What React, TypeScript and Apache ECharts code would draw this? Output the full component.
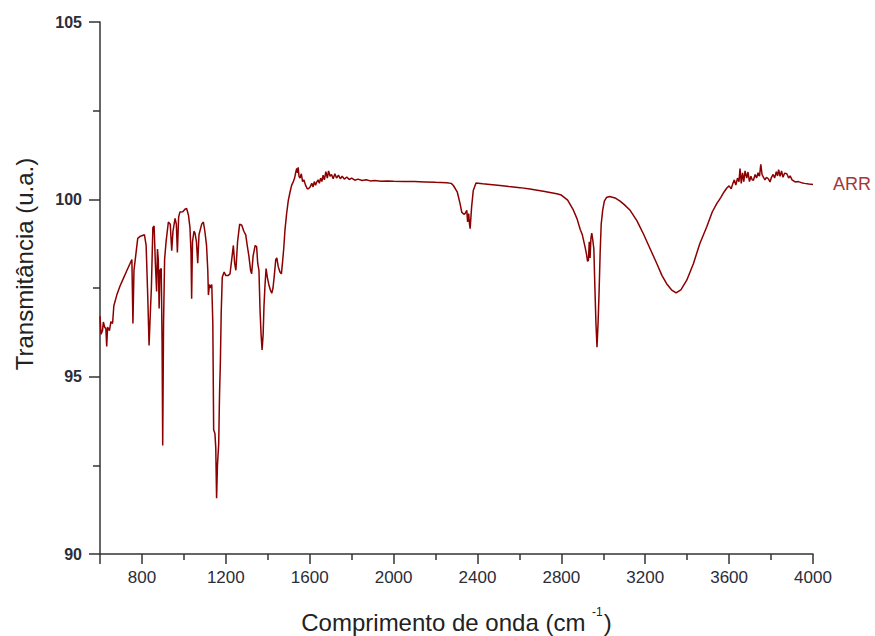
import React, { useEffect, useRef } from "react";
import * as echarts from "echarts";

// Wavenumber (cm^-1) and transmittance (u.a.)
const wavenumbers: number[] = [
  600, 605, 612, 616, 622, 628, 632, 636, 645, 652, 660, 666, 680, 695, 710, 725, 740, 752, 757, 762,
  770, 780, 790, 812, 820, 828, 834, 840, 845, 852, 858, 864, 870, 874, 878, 882, 886, 892, 896, 899,
  903, 908, 915, 926, 935, 942, 948, 958, 964, 969, 975, 981, 995, 1005, 1013, 1022, 1029, 1034, 1037, 1041,
  1048, 1053, 1060, 1066, 1072, 1085, 1093, 1100, 1108, 1114, 1117, 1122, 1128, 1133, 1138, 1142, 1148, 1152, 1156, 1160,
  1166, 1170, 1174, 1178, 1183, 1192, 1200, 1210, 1220, 1228, 1236, 1242, 1248, 1256, 1266, 1276, 1286, 1295, 1302, 1310,
  1318, 1323, 1330, 1340, 1347, 1352, 1358, 1363, 1368, 1373, 1378, 1382, 1387, 1392, 1398, 1405, 1412, 1419, 1425, 1432,
  1438, 1443, 1450, 1458, 1465, 1470, 1476, 1482, 1490, 1498, 1506, 1514, 1522, 1528, 1533, 1538, 1542, 1545, 1549, 1554,
  1560, 1566, 1572, 1580, 1588, 1594, 1602, 1610, 1616, 1622, 1628, 1633, 1640, 1646, 1652, 1658, 1664, 1670, 1677, 1684,
  1690, 1697, 1704, 1712, 1720, 1728, 1737, 1746, 1755, 1765, 1777, 1788, 1800, 1815, 1830, 1850, 1870, 1888, 1910, 1940,
  1970, 2000, 2050, 2100, 2150, 2200, 2253, 2275, 2285, 2304, 2317, 2325, 2335, 2341, 2349, 2353, 2358, 2362, 2365, 2372,
  2380, 2393, 2425, 2460, 2508, 2550, 2603, 2650, 2714, 2778, 2800, 2830, 2857, 2875, 2890, 2900, 2913, 2920, 2925, 2929,
  2933, 2937, 2941, 2945, 2950, 2955, 2960, 2965, 2970, 2975, 2980, 2985, 2990, 2997, 3005, 3015, 3030, 3056, 3080, 3100,
  3128, 3160, 3191, 3220, 3255, 3280, 3302, 3325, 3347, 3370, 3398, 3430, 3460, 3493, 3520, 3541, 3560, 3575, 3589, 3600,
  3610, 3618, 3625, 3632, 3640, 3647, 3652, 3658, 3664, 3670, 3676, 3684, 3690, 3697, 3704, 3710, 3716, 3724, 3731, 3738,
  3745, 3751, 3757, 3764, 3771, 3778, 3787, 3795, 3802, 3810, 3817, 3825, 3831, 3836, 3843, 3850, 3857, 3865, 3875, 3884,
  3891, 3900, 3915, 3930, 3945, 3960, 3980, 4000,
];

const transmittance: number[] = [
  96.7, 96.2, 96.3, 96.54, 96.4, 96.35, 95.85, 96.4, 96.3, 96.55, 96.5, 97.0, 97.3, 97.55, 97.75, 97.95, 98.15, 98.3, 96.5, 98.0,
  98.4, 98.9, 98.95, 99.0, 98.7, 97.2, 95.88, 96.8, 97.5, 99.2, 99.25, 98.2, 97.4, 98.6, 98.3, 96.92, 98.0, 98.05, 96.0, 93.06,
  96.5, 98.3, 98.8, 99.36, 99.3, 98.55, 99.1, 99.46, 99.3, 98.5, 99.5, 99.64, 99.65, 99.72, 99.74, 99.55, 99.2, 98.5, 97.2, 98.8,
  99.1, 99.05, 98.8, 98.2, 99.0, 99.3, 99.36, 99.1, 98.7, 98.0, 97.3, 97.6, 97.5, 97.6, 96.5, 93.5, 93.4, 93.0, 91.57, 92.5,
  93.1, 94.5, 95.4, 96.8, 97.8, 97.95, 97.85, 97.85, 97.9, 98.3, 98.7, 98.2, 98.0, 98.8, 99.3, 99.27, 99.1, 99.0, 98.7, 98.4,
  98.0, 97.9, 98.4, 98.7, 98.66, 98.2, 98.0, 96.9, 96.2, 95.75, 96.2, 97.0, 97.6, 98.05, 97.8, 97.6, 97.45, 97.35, 97.5, 97.9,
  98.3, 98.35, 98.1, 97.95, 97.9, 98.2, 98.6, 99.13, 99.6, 99.97, 100.2, 100.4, 100.5, 100.6, 100.75, 100.87, 100.75, 100.9, 100.65, 100.6,
  100.72, 100.5, 100.55, 100.4, 100.3, 100.3, 100.35, 100.45, 100.35, 100.5, 100.4, 100.48, 100.55, 100.45, 100.6, 100.5, 100.68, 100.55, 100.78, 100.6,
  100.8, 100.65, 100.7, 100.58, 100.72, 100.6, 100.68, 100.58, 100.65, 100.57, 100.63, 100.56, 100.6, 100.54, 100.57, 100.53, 100.55, 100.52, 100.53, 100.51,
  100.52, 100.51, 100.5, 100.5, 100.49, 100.48, 100.47, 100.45, 100.39, 100.2, 99.88, 99.64, 99.58, 99.6, 99.69, 99.36, 99.6, 99.3, 99.17, 99.78,
  100.25, 100.46, 100.44, 100.42, 100.39, 100.36, 100.33, 100.29, 100.23, 100.16, 100.12, 99.98, 99.7, 99.45, 99.15, 99.0, 98.66, 98.45, 98.25, 98.28,
  98.8, 98.35, 98.9, 99.05, 98.85, 98.6, 97.5, 96.5, 95.83, 96.5, 97.4, 98.5, 99.3, 99.69, 99.95, 100.05, 100.08, 100.04, 99.95, 99.85,
  99.69, 99.4, 99.03, 98.65, 98.19, 97.85, 97.62, 97.45, 97.36, 97.45, 97.72, 98.19, 98.75, 99.22, 99.65, 99.88, 100.05, 100.2, 100.32, 100.38,
  100.3, 100.45, 100.55, 100.4, 100.6, 100.5, 100.87, 100.45, 100.75, 100.5, 100.8, 100.6, 100.77, 100.5, 100.65, 100.55, 100.54, 100.7, 100.6, 100.75,
  100.65, 100.99, 100.7, 100.62, 100.55, 100.62, 100.58, 100.49, 100.62, 100.7, 100.6, 100.78, 100.66, 100.84, 100.65, 100.8, 100.62, 100.74, 100.72, 100.6,
  100.66, 100.55, 100.49, 100.5, 100.47, 100.45, 100.43, 100.42,
];

const seriesName = "ARR";
const xMajorTicks: number[] = [600, 800, 1200, 1600, 2000, 2400, 2800, 3200, 3600, 4000];
const xMinorTicks: number[] = [1000, 1400, 1800, 2200, 2600, 3000, 3400, 3800];
const xTickLabels: number[] = [800, 1200, 1600, 2000, 2400, 2800, 3200, 3600, 4000];
const yTickLabels: number[] = [90, 95, 100, 105];

const FONT = "'Liberation Sans', Arial, sans-serif";
const AXIS_COLOR = "#333333";
const LABEL_COLOR = "#2a2d3a";

export default function App() {
  const ref = useRef<HTMLDivElement>(null);

  useEffect(() => {
    if (!ref.current) return;
    const chart = echarts.init(ref.current, undefined, { renderer: "svg" });
    const data = wavenumbers.map((w, i) => [w, transmittance[i]]);

    chart.setOption({
      animation: false,
      backgroundColor: "#ffffff",
      grid: { left: 100, right: 62, top: 22, bottom: 82, containLabel: false, outerBoundsMode: "none" },
      xAxis: [
        {
          type: "value",
          min: 600,
          max: 4000,
          interval: 200,
          position: "bottom",
          axisLine: { show: true, lineStyle: { color: AXIS_COLOR, width: 1.5 } },
          axisTick: {
            show: true,
            length: 10,
            customValues: xMajorTicks,
            lineStyle: { color: AXIS_COLOR, width: 1.5 },
          },
          axisLabel: {
            show: true,
            customValues: xTickLabels,
            formatter: (v: number) => String(v),
            margin: 15,
            fontSize: 17,
            fontFamily: FONT,
            color: LABEL_COLOR,
          },
          splitLine: { show: false },
          name: "{m|Comprimento de onda (cm }{s|-1}{m|)}",
          nameLocation: "middle",
          nameGap: 52,
          nameTextStyle: {
            rich: {
              m: { fontSize: 24, fontFamily: FONT, color: "#222222", lineHeight: 28, verticalAlign: "bottom" },
              s: { fontSize: 12, fontFamily: FONT, color: "#222222", lineHeight: 28, verticalAlign: "top", padding: [0, 1, 14, 0] },
            },
          },
        },
        {
          type: "value",
          min: 600,
          max: 4000,
          interval: 200,
          position: "bottom",
          axisLine: { show: false },
          axisTick: {
            show: true,
            length: 6,
            customValues: xMinorTicks,
            lineStyle: { color: AXIS_COLOR, width: 1.5 },
          },
          axisLabel: { show: false },
          splitLine: { show: false },
        },
      ],
      yAxis: {
        type: "value",
        min: 90,
        max: 105,
        interval: 5,
        axisLine: { show: true, lineStyle: { color: AXIS_COLOR, width: 1.5 } },
        axisTick: { show: true, length: 11, lineStyle: { color: AXIS_COLOR, width: 1.5 } },
        minorTick: { show: true, splitNumber: 2, length: 7, lineStyle: { color: AXIS_COLOR, width: 1.5 } },
        axisLabel: {
          customValues: yTickLabels,
          formatter: (v: number) => String(v),
          margin: 18,
          fontSize: 16,
          fontWeight: "bold",
          fontFamily: FONT,
          color: LABEL_COLOR,
        },
        splitLine: { show: false },
        minorSplitLine: { show: false },
      },
      graphic: [
        {
          type: "text",
          x: 24,
          y: 264,
          rotation: Math.PI / 2,
          style: {
            text: "Transmitância (u.a.)",
            fontSize: 24,
            fontFamily: FONT,
            fill: "#222222",
            textAlign: "center",
            textVerticalAlign: "middle",
          },
        },
      ],
      series: [
        {
          name: seriesName,
          type: "line",
          xAxisIndex: 0,
          data,
          showSymbol: false,
          symbol: "none",
          lineStyle: { color: "#8b0000", width: 1.5 },
          itemStyle: { color: "#8b0000" },
          endLabel: {
            show: true,
            formatter: seriesName,
            distance: 20,
            fontSize: 18,
            fontFamily: FONT,
            color: "#a4373a",
          },
        },
      ],
    });

    return () => chart.dispose();
  }, []);

  return (
    <div
      ref={ref}
      style={{ position: "absolute", left: 0, top: 0, width: 875, height: 636, background: "#fff" }}
    />
  );
}
